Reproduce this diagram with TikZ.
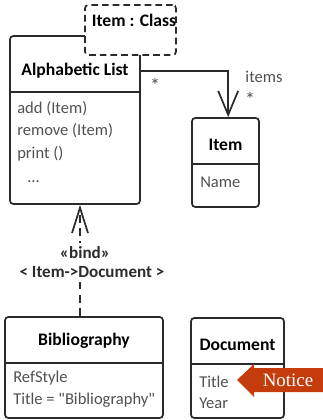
\documentclass[tikz,border=0pt]{standalone}
\usepackage{fontspec}
\setmainfont{Carlito}
% a second Carlito family without TeX ligatures keeps straight quotes
\newfontfamily\umlfont{Carlito}
\newfontfamily\noticefont{Liberation Serif}
\usetikzlibrary{arrows.meta}
\definecolor{ink}{HTML}{2B2B2B}
\definecolor{attr}{HTML}{505050}
\definecolor{noticered}{HTML}{C43B0C}
\tikzset{
  umlbox/.style={draw=ink, line width=1.3pt, rounded corners=2.5pt, fill=white, inner sep=0pt},
  tplbox/.style={draw=ink, line width=1.3pt, dashed, dash pattern=on 5pt off 3pt, rounded corners=2.5pt, fill=white, inner sep=0pt},
  sep/.style={draw=ink, line width=1.3pt},
  title/.style={font=\umlfont\fontsize{13.2}{15}\selectfont\bfseries, text=black, inner sep=0pt},
  attrtext/.style={font=\umlfont\fontsize{12.4}{14}\selectfont, text=attr, anchor=west, inner sep=0pt},
  assoc/.style={draw=ink, line width=1.3pt, -{Straight Barb[length=18pt,width=15pt,line width=1.3pt]}},
  dep/.style={draw=ink, line width=1.3pt, dash pattern=on 6pt off 4pt, -{Straight Barb[length=19pt,width=12pt,line width=1.3pt]}},
  lbl/.style={font=\umlfont\fontsize{12.4}{14}\selectfont, text=attr, inner sep=0pt},
  multlbl/.style={font=\umlfont\fontsize{15}{16}\selectfont, text=attr, inner sep=0pt},
  bindlbl/.style={font=\umlfont\fontsize{12.8}{14.5}\selectfont\bfseries, text=ink, fill=white, inner xsep=1pt, inner ysep=3pt},
}
\begin{document}
\begin{tikzpicture}[x=0.75pt, y=-0.75pt]
\useasboundingbox (0,0) rectangle (323,420);

% class with the template parameter
\node[umlbox, minimum width=97.5pt, minimum height=126pt] (alpha) at (75,120) {};
\draw[sep] (alpha.west |- 0,92) -- (alpha.east |- 0,92);
\node[tplbox, minimum width=68.25pt, minimum height=37.5pt] (tpl) at (130.5,30) {};
\node[title, anchor=center] (tpltext) at (134,20) {Item : Class};
\node[title] (alphaname) at (75,71) {Alphabetic List};
\node[attrtext] (op1) at (17,109) {add (Item)};
\node[attrtext] (op2) at (17,131) {remove (Item)};
\node[attrtext] (op3) at (17,154) {print ()};
\node[attrtext] (op4) at (27,182) {...};

% Item class
\node[umlbox, minimum width=50.25pt, minimum height=66.75pt] (item) at (225.5,162.5) {};
\draw[sep] (item.west |- 0,164) -- (item.east |- 0,164);
\node[title] (itemname) at (225.5,145) {Item};
\node[attrtext] (itemattr) at (200,182) {Name};

% association Alphabetic List -> Item
\draw[assoc] (alpha.east |- 0,71) -| ([xshift=2pt]item.north);
\node[multlbl] (mult1) at (155,85) {*};
\node[lbl] (role) at (264,77) {items};
\node[multlbl] (mult2) at (250,99) {*};

% bound class
\node[umlbox, minimum width=118.5pt, minimum height=75.75pt] (bib) at (84,367.5) {};
\draw[sep] (bib.west |- 0,363) -- (bib.east |- 0,363);
\node[title] (bibname) at (84,341) {Bibliography};
\node[attrtext] (bib1) at (13,378) {RefStyle};
\node[attrtext] (bib2) at (13,400) {Title = "Bibliography"};

% binding dependency
\draw[dep] ([xshift=-3pt]bib.north) coordinate (d0) -- (d0 |- alpha.south);
\node[bindlbl] (bind1) at (85,253) {«bind»};
\node[bindlbl] (bind2) at (92,272) {< Item->Document >};

% Document class
\node[umlbox, minimum width=69.75pt, minimum height=75pt] (doc) at (237.5,368) {};
\draw[sep] (doc.west |- 0,364) -- (doc.east |- 0,364);
\node[title] (docname) at (237.5,345) {Document};
\node[attrtext] (doc1) at (199,382) {Title};
\node[attrtext] (doc2) at (199,403) {Year};

% callout arrow
\fill[noticered] (237,380) -- (254,364) -- (254,368) -- (323,368) -- (323,392) -- (254,392) -- (254,397) -- cycle;
\node[font=\noticefont\fontsize{14.2}{16}\selectfont, text=white, inner sep=0pt] (notice) at (288,380) {Notice};
\end{tikzpicture}
\end{document}
